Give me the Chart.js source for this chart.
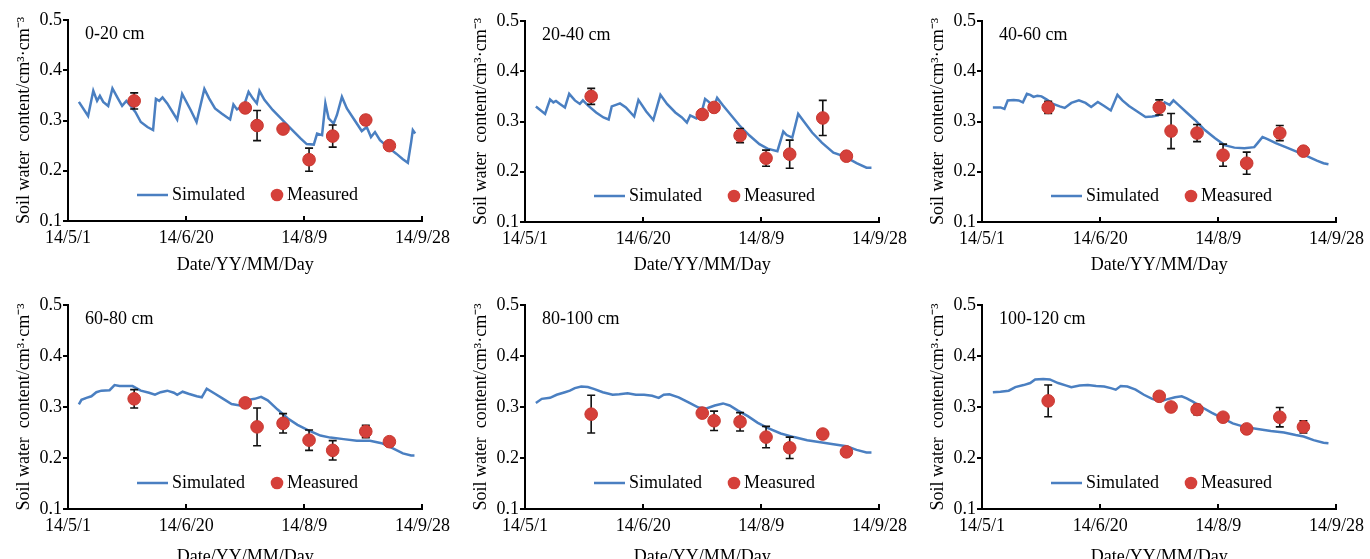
<!DOCTYPE html>
<html>
<head>
<meta charset="utf-8">
<title>Soil water content - simulated vs measured</title>
<script src="https://cdn.jsdelivr.net/npm/chart.js@4.4.1/dist/chart.umd.min.js"></script>
<style>
  html, body { margin: 0; padding: 0; background: #fff; }
  body { width: 1370px; height: 559px; overflow: hidden; position: relative; }
  .panel { position: absolute; }
</style>
</head>
<body>
<div class="panel" style="left:0px;top:0px"><canvas id="c1" width="456" height="280"></canvas></div>
<div class="panel" style="left:457px;top:0px"><canvas id="c2" width="456" height="280"></canvas></div>
<div class="panel" style="left:914px;top:0px"><canvas id="c3" width="456" height="280"></canvas></div>
<div class="panel" style="left:0px;top:280px"><canvas id="c4" width="456" height="292"></canvas></div>
<div class="panel" style="left:457px;top:280px"><canvas id="c5" width="456" height="292"></canvas></div>
<div class="panel" style="left:914px;top:280px"><canvas id="c6" width="456" height="292"></canvas></div>

<script>
// x axis = days since 2014-05-01
const xTickDays = [0, 50, 100, 150];
const xTickLabels = ['14/5/1', '14/6/20', '14/8/9', '14/9/28'];
const yTickValues = [0.1, 0.2, 0.3, 0.4, 0.5];
const depthLabels = ['0-20 cm', '20-40 cm', '40-60 cm', '60-80 cm', '80-100 cm', '100-120 cm'];

// measurement dates (days since 14/5/1)
const measDays = [28, 75, 80, 91, 102, 112, 126, 136];

// 0-20 cm
const simDays1 = [4.6, 8.5, 10.7, 12.3, 13.5, 14.9, 17, 18.8, 21.1, 22.9, 24.7, 26.5, 28.5, 30.8, 33.6, 36, 37.2, 38.6, 40, 42, 46.2, 48.3, 51.9, 54.4, 57.7, 59.7, 62.2, 65, 67.1, 68.6, 70, 71.5, 74.5, 76.4, 78.2, 79.9, 81, 83.1, 86.6, 90.1, 94.3, 98.5, 101, 104, 105.4, 107.5, 108.9, 110.3, 112.4, 113.8, 115.9, 118, 120.8, 124.3, 126.4, 128.2, 129.9, 132, 135.4, 138.9, 141.7, 143.8, 145.2, 145.9, 146.9];
const simVals1 = [0.337, 0.309, 0.359, 0.339, 0.349, 0.337, 0.329, 0.364, 0.344, 0.329, 0.339, 0.329, 0.317, 0.297, 0.287, 0.281, 0.343, 0.339, 0.346, 0.334, 0.302, 0.353, 0.321, 0.297, 0.363, 0.344, 0.324, 0.314, 0.307, 0.302, 0.332, 0.322, 0.330, 0.357, 0.344, 0.334, 0.359, 0.341, 0.321, 0.304, 0.284, 0.264, 0.253, 0.252, 0.274, 0.271, 0.334, 0.304, 0.294, 0.311, 0.347, 0.324, 0.304, 0.279, 0.287, 0.267, 0.277, 0.261, 0.247, 0.234, 0.223, 0.216, 0.257, 0.281, 0.274];
const measVals1 = [0.339, 0.325, 0.290, 0.283, 0.222, 0.269, 0.301, 0.250];
const measErr1 = [0.016, 0, 0.030, 0, 0.023, 0.022, 0.009, 0];

// 20-40 cm
const simDays2 = [4.6, 8.5, 10.6, 12, 13.1, 14.8, 16.9, 18.7, 21.1, 23.2, 24.5, 26.6, 30.1, 33.2, 35.4, 36.7, 38.5, 40.2, 42.7, 46.2, 48, 51.3, 54.3, 57.3, 60.1, 63.6, 66.4, 68.5, 69.9, 72.6, 74.5, 76.2, 78, 79.8, 81.3, 83.8, 87.3, 90.8, 95, 99.2, 102.6, 106.8, 109.3, 110.7, 113.1, 115.6, 118, 121.5, 125.6, 130.5, 135.4, 140.3, 144.5, 146.6];
const simVals2 = [0.330, 0.315, 0.344, 0.338, 0.341, 0.335, 0.328, 0.355, 0.342, 0.335, 0.342, 0.332, 0.318, 0.308, 0.304, 0.330, 0.333, 0.336, 0.328, 0.310, 0.343, 0.320, 0.303, 0.353, 0.335, 0.318, 0.308, 0.298, 0.312, 0.306, 0.314, 0.345, 0.338, 0.328, 0.347, 0.332, 0.312, 0.292, 0.272, 0.255, 0.246, 0.241, 0.280, 0.273, 0.268, 0.315, 0.300, 0.278, 0.258, 0.238, 0.230, 0.217, 0.208, 0.208];
const measVals2 = [0.350, 0.314, 0.328, 0.272, 0.227, 0.235, 0.307, 0.231];
const measErr2 = [0.016, 0, 0, 0.014, 0.016, 0.028, 0.035, 0];

// 40-60 cm
const simDays3 = [4.6, 7.8, 9.5, 10.9, 13.4, 15.5, 17.3, 19, 20.4, 21.8, 23.4, 25.2, 27.6, 30.1, 32.9, 35, 37.8, 41, 43.8, 46.2, 49, 51.7, 54.5, 57.3, 59.4, 62.2, 65.7, 69.2, 72, 74.5, 75.9, 77.3, 79.4, 81, 83.1, 86.6, 90.1, 94.3, 98.5, 102.6, 106.8, 111, 115.2, 116.6, 118.7, 120.8, 124.3, 128.5, 132.6, 137.5, 141.7, 144.5, 146.6];
const simVals3 = [0.328, 0.328, 0.325, 0.342, 0.343, 0.342, 0.338, 0.355, 0.353, 0.349, 0.351, 0.350, 0.343, 0.335, 0.330, 0.327, 0.337, 0.342, 0.337, 0.329, 0.339, 0.331, 0.322, 0.353, 0.342, 0.331, 0.320, 0.309, 0.310, 0.312, 0.327, 0.338, 0.333, 0.342, 0.333, 0.318, 0.303, 0.283, 0.267, 0.253, 0.248, 0.247, 0.249, 0.257, 0.269, 0.265, 0.257, 0.249, 0.241, 0.231, 0.222, 0.217, 0.215];
const measVals3 = [0.328, 0.328, 0.281, 0.277, 0.233, 0.217, 0.277, 0.241];
const measErr3 = [0.012, 0.015, 0.035, 0.017, 0.022, 0.022, 0.015, 0];

// 60-80 cm
const simDays4 = [4.6, 5.7, 7.8, 9.9, 12, 14.1, 17.6, 19.7, 21.8, 24.5, 27.3, 30.8, 34.3, 36.8, 39.2, 42, 44.8, 46.2, 48.5, 51, 54.5, 56.6, 58.7, 62.2, 65.7, 69.2, 72.7, 76.2, 79, 81.7, 84.5, 88.7, 92.9, 97.1, 101.3, 106.8, 111, 116.6, 122.2, 127.8, 132.7, 137.5, 141.7, 145.2, 146.6];
const simVals4 = [0.305, 0.314, 0.318, 0.321, 0.329, 0.332, 0.333, 0.343, 0.341, 0.341, 0.341, 0.332, 0.328, 0.324, 0.329, 0.332, 0.328, 0.324, 0.330, 0.326, 0.321, 0.319, 0.336, 0.326, 0.316, 0.306, 0.303, 0.314, 0.316, 0.320, 0.313, 0.295, 0.278, 0.265, 0.255, 0.244, 0.240, 0.237, 0.234, 0.234, 0.229, 0.219, 0.209, 0.205, 0.205];
const measVals4 = [0.316, 0.308, 0.261, 0.268, 0.235, 0.215, 0.252, 0.232];
const measErr4 = [0.018, 0, 0.037, 0.019, 0.020, 0.019, 0.012, 0];

// 80-100 cm
const simDays5 = [4.6, 7.1, 10.6, 13.4, 16.9, 19, 21.1, 23.8, 26.6, 29.4, 32.9, 37.1, 39.9, 43.4, 46.9, 50.4, 53.8, 56.6, 58.7, 61.1, 65, 69.2, 73.4, 76.8, 80.3, 83.8, 86.6, 90.1, 94.3, 98.5, 102.6, 108.2, 113.8, 119.4, 125, 130.5, 136.1, 140.3, 144.5, 146.6];
const simVals5 = [0.308, 0.316, 0.318, 0.324, 0.329, 0.332, 0.337, 0.340, 0.339, 0.335, 0.329, 0.324, 0.325, 0.327, 0.324, 0.324, 0.322, 0.318, 0.324, 0.325, 0.319, 0.309, 0.299, 0.297, 0.303, 0.307, 0.303, 0.293, 0.282, 0.269, 0.259, 0.248, 0.241, 0.235, 0.231, 0.227, 0.223, 0.216, 0.211, 0.211];
const measVals5 = [0.286, 0.288, 0.273, 0.271, 0.241, 0.220, 0.247, 0.212];
const measErr5 = [0.037, 0, 0.019, 0.018, 0.021, 0.021, 0, 0];

// 100-120 cm
const simDays6 = [4.6, 7.8, 11.3, 14.1, 17.6, 20.4, 22.5, 25.9, 28.7, 32.2, 35.7, 37.8, 41.3, 44.8, 48.3, 51.7, 54.5, 56.6, 58.7, 61.5, 65, 68.5, 72, 75.5, 78.2, 81.7, 84.5, 86.6, 89.4, 92.9, 97.1, 101.3, 106.1, 111, 116.6, 122.2, 127.8, 132.7, 136.1, 140.3, 144.5, 146.6];
const simVals6 = [0.329, 0.330, 0.332, 0.339, 0.343, 0.347, 0.354, 0.355, 0.354, 0.347, 0.342, 0.339, 0.342, 0.343, 0.341, 0.340, 0.337, 0.334, 0.341, 0.340, 0.334, 0.324, 0.316, 0.311, 0.315, 0.319, 0.321, 0.317, 0.310, 0.300, 0.289, 0.279, 0.268, 0.261, 0.257, 0.253, 0.250, 0.245, 0.242, 0.235, 0.230, 0.229];
const measVals6 = [0.312, 0.321, 0.300, 0.295, 0.280, 0.257, 0.280, 0.261];
const measErr6 = [0.031, 0, 0, 0.010, 0, 0, 0.019, 0.012];

const FONT = "'Liberation Serif', 'Times New Roman', serif";
const BLUE = '#4a7fc1';
const RED = '#d5403a';

// error bars under the red markers
const errorBars = {
  id: 'errorBars',
  beforeDatasetDraw(chart, args) {
    if (args.index !== 1) return;
    const ctx = chart.ctx;
    const ys = chart.scales.y, xs = chart.scales.x;
    ctx.save();
    ctx.strokeStyle = '#111';
    ctx.lineWidth = 1.6;
    chart.data.datasets[1].data.forEach(p => {
      if (!p.e) return;
      const x = xs.getPixelForValue(p.x);
      const y1 = ys.getPixelForValue(p.y + p.e);
      const y2 = ys.getPixelForValue(p.y - p.e);
      ctx.beginPath();
      ctx.moveTo(x, y1); ctx.lineTo(x, y2);
      ctx.moveTo(x - 4, y1); ctx.lineTo(x + 4, y1);
      ctx.moveTo(x - 4, y2); ctx.lineTo(x + 4, y2);
      ctx.stroke();
    });
    ctx.restore();
  }
};

// depth label, in-plot legend and inward x ticks
const panelExtras = {
  id: 'panelExtras',
  afterDraw(chart, args, opts) {
    const ctx = chart.ctx;
    const a = chart.chartArea;
    const xs = chart.scales.x;
    ctx.save();
    // x ticks pointing up into the plot
    ctx.strokeStyle = '#000';
    ctx.lineWidth = 2;
    xTickDays.forEach(d => {
      const px = Math.round(xs.getPixelForValue(d));
      ctx.beginPath();
      ctx.moveTo(px, a.bottom);
      ctx.lineTo(px, a.bottom - 5);
      ctx.stroke();
    });
    ctx.fillStyle = '#000';
    ctx.font = '18px ' + FONT;
    ctx.textBaseline = 'middle';
    ctx.textAlign = 'left';
    ctx.fillText(opts.label, a.left + 17, a.top + 14);

    const ly = a.bottom - 26;
    ctx.strokeStyle = BLUE;
    ctx.lineWidth = 2.5;
    ctx.beginPath();
    ctx.moveTo(a.left + 69, ly);
    ctx.lineTo(a.left + 100, ly);
    ctx.stroke();
    ctx.fillText('Simulated', a.left + 104, ly);
    ctx.fillStyle = RED;
    ctx.beginPath();
    ctx.arc(a.left + 209, ly, 6.3, 0, Math.PI * 2);
    ctx.fill();
    ctx.fillStyle = '#000';
    ctx.fillText('Measured', a.left + 219, ly);
    ctx.restore();
  }
};

function makePanel(id, label, simDays, simVals, measVals, measErr, topPad, xAxisH) {
  new Chart(document.getElementById(id), {
    type: 'scatter',
    data: {
      datasets: [
        {
          type: 'line',
          label: 'Simulated',
          data: simDays.map((d, i) => ({ x: d, y: simVals[i] })),
          borderColor: BLUE,
          borderWidth: 2.5,
          pointRadius: 0,
          tension: 0,
          fill: false,
          order: 1
        },
        {
          type: 'scatter',
          label: 'Measured',
          data: measDays.map((d, i) => ({ x: d, y: measVals[i], e: measErr[i] })),
          backgroundColor: RED,
          borderColor: '#c8372f',
          borderWidth: 1,
          pointRadius: 6.3,
          order: 0
        }
      ]
    },
    options: {
      responsive: false,
      animation: false,
      events: [],
      layout: { padding: { left: 0, right: 30, top: topPad, bottom: 0 } },
      plugins: {
        legend: { display: false },
        tooltip: { enabled: false },
        panelExtras: { label: label }
      },
      scales: {
        x: {
          type: 'linear',
          min: 0,
          max: 150,
          afterBuildTicks: s => { s.ticks = xTickDays.map(v => ({ value: v })); },
          afterFit: s => { s.height = xAxisH; },
          ticks: {
            callback: (v, i) => xTickLabels[i],
            color: '#000',
            font: { family: FONT, size: 18 },
            padding: 6,
            maxRotation: 0,
            autoSkip: false
          },
          grid: { drawOnChartArea: false, drawTicks: false },
          border: { color: '#000', width: 2 },
          title: {
            display: true,
            text: 'Date/YY/MM/Day',
            color: '#000',
            font: { family: FONT, size: 18 },
            padding: { top: 0, bottom: 4 }
          }
        },
        y: {
          min: 0.1,
          max: 0.5,
          afterBuildTicks: s => { s.ticks = yTickValues.map(v => ({ value: v })); },
          afterFit: s => { s.width = 68; },
          ticks: {
            callback: v => v.toFixed(1),
            color: '#000',
            font: { family: FONT, size: 18 },
            padding: 1
          },
          grid: { drawOnChartArea: false, color: '#000', lineWidth: 2, tickLength: 5 },
          border: { color: '#000', width: 2 },
          title: {
            display: true,
            text: 'Soil water  content/cm³·cm⁻³',
            color: '#000',
            font: { family: FONT, size: 18 },
            padding: { top: 13, bottom: 0 }
          }
        }
      }
    },
    plugins: [errorBars, panelExtras]
  });
}

makePanel('c1', depthLabels[0], simDays1, simVals1, measVals1, measErr1, 20, 59);
makePanel('c2', depthLabels[1], simDays2, simVals2, measVals2, measErr2, 21, 58);
makePanel('c3', depthLabels[2], simDays3, simVals3, measVals3, measErr3, 21, 58);
makePanel('c4', depthLabels[3], simDays4, simVals4, measVals4, measErr4, 25, 63);
makePanel('c5', depthLabels[4], simDays5, simVals5, measVals5, measErr5, 25, 63);
makePanel('c6', depthLabels[5], simDays6, simVals6, measVals6, measErr6, 25, 63);
</script>
</body>
</html>
